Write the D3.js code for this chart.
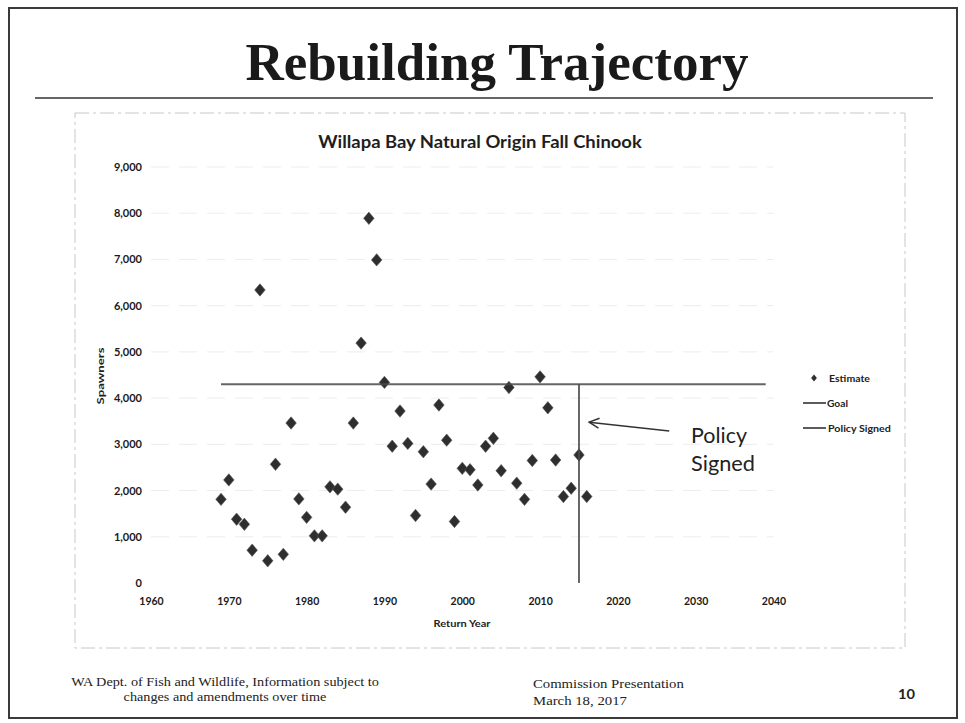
<!DOCTYPE html>
<html>
<head>
<meta charset="utf-8">
<script src="https://cdn.jsdelivr.net/npm/d3@7"></script>
<style>
  html, body { margin: 0; padding: 0; background: #fff; }
  svg { display: block; }
</style>
</head>
<body>
<svg id="chart" width="965" height="723"></svg>
<script>
// ---------------- DATA ----------------
const years = [1969,1970,1971,1972,1973,1974,1975,1976,1977,1978,1979,1980,1981,1982,1983,1984,1985,1986,1987,1988,1989,1990,1991,1992,1993,1994,1995,1996,1997,1998,1999,2000,2001,2002,2003,2004,2005,2006,2007,2008,2009,2010,2011,2012,2013,2014,2015,2016];
const spawners = [1810,2230,1380,1270,710,6340,480,2570,620,3460,1820,1420,1020,1020,2080,2030,1640,3460,5190,7890,6990,4340,2960,3720,3020,1460,2840,2140,3850,3090,1330,2480,2450,2120,2960,3130,2430,4230,2160,1810,2650,4460,3790,2660,1870,2050,2770,1870];
const goalYears = [1969, 2039];
const goalValues = [4300, 4300];
const policyYears = [2015, 2015];
const policyValues = [0, 4300];
const xTicks = [1960,1970,1980,1990,2000,2010,2020,2030,2040];
const yTicks = [0,1000,2000,3000,4000,5000,6000,7000,8000,9000];
const legendLabels = ["Estimate", "Goal", "Policy Signed"];
const annotationLines = ["Policy", "Signed"];
const arrowFrom = [2026.6, 3290];
const arrowTo = [2016.3, 3480];
const slideTitle = "Rebuilding Trajectory";
const chartTitle = "Willapa Bay Natural Origin Fall Chinook";
const xTitle = "Return Year";
const yTitle = "Spawners";
const footerLeft = ["WA Dept. of Fish and Wildlife, Information subject to", "changes and amendments over time"];
const footerMid = ["Commission Presentation", "March 18, 2017"];
const pageNumber = "10";

// ---------------- SETUP ----------------
const svg = d3.select("#chart");
const SANS = "Lato, 'Open Sans', sans-serif";
const SERIF = "'Liberation Serif', 'DejaVu Serif', serif";

function addText(parent, x, y, str, o) {
  const g = parent.append("g").attr("transform", `translate(${x},${y})`);
  const t = g.append("text")
    .attr("x", 0).attr("y", 0)
    .attr("text-anchor", o.anchor || "start")
    .attr("font-family", o.family || SANS)
    .attr("font-size", o.size || 12)
    .attr("font-weight", o.weight || "normal")
    .attr("fill", o.fill || "#222")
    .text(str);
  if (o.width) {
    const w = t.node().getComputedTextLength();
    if (w > 0) t.attr("transform", `scale(${o.width / w},${o.sy || 1})`);
  }
  if (o.rotate) g.attr("transform", `translate(${x},${y}) rotate(${o.rotate})`);
  return t;
}

// slide border
svg.append("rect").attr("x", 9).attr("y", 8).attr("width", 948).attr("height", 710)
  .attr("fill", "none").attr("stroke", "#3a3a3a").attr("stroke-width", 2);

// slide title + rule
addText(svg, 497, 80, slideTitle, {anchor: "middle", family: SERIF, size: 50, weight: "bold", fill: "#1a1a1a", width: 503, sy: 1.05});
svg.append("line").attr("x1", 35).attr("x2", 933).attr("y1", 98).attr("y2", 98)
  .attr("stroke", "#333").attr("stroke-width", 1.6);

// chart area outline (faint)
svg.append("rect").attr("x", 75).attr("y", 113).attr("width", 830).attr("height", 535)
  .attr("fill", "none").attr("stroke", "#c8c8c8").attr("stroke-width", 1)
  .attr("stroke-dasharray", "14,4,3,4");

// chart title
addText(svg, 480, 148, chartTitle, {anchor: "middle", size: 17, weight: "bold", fill: "#1e1e1e", width: 324});

// ---------------- SCALES ----------------
const x = d3.scaleLinear().domain([1960, 2040]).range([151, 773.5]);
const y = d3.scaleLinear().domain([0, 9000]).range([583, 167]);

// faint gridlines
svg.append("g").selectAll("line").data(yTicks.filter(d => d > 0)).join("line")
  .attr("x1", x(1960)).attr("x2", x(2040))
  .attr("y1", d => y(d)).attr("y2", d => y(d))
  .attr("stroke", "#ededed").attr("stroke-width", 1).attr("stroke-dasharray", "18,10");

// axes (labels only)
const yAxis = svg.append("g").attr("transform", `translate(${x(1960)},0)`)
  .call(d3.axisLeft(y).tickValues(yTicks).tickFormat(d3.format(",")).tickSize(0).tickPadding(9));
yAxis.select(".domain").remove();
yAxis.selectAll("text").attr("font-family", SANS).attr("font-size", 11).attr("font-weight", "bold").attr("fill", "#1a1a1a");

const xAxis = svg.append("g").attr("transform", `translate(0,${y(0) + 12})`)
  .call(d3.axisBottom(x).tickValues(xTicks).tickFormat(d3.format("d")).tickSize(0).tickPadding(3));
xAxis.select(".domain").remove();
xAxis.selectAll("text").attr("font-family", SANS).attr("font-size", 10.5).attr("font-weight", "bold").attr("fill", "#1a1a1a");

// axis titles
addText(svg, 462, 627, xTitle, {anchor: "middle", size: 10, weight: "bold", width: 57});
addText(svg, 104, 376, yTitle, {anchor: "middle", size: 10, weight: "bold", width: 57, rotate: -90});

// ---------------- MARKS ----------------
// diamond slightly taller than wide, as in the source chart
const diamondType = { draw(ctx, size) {
  const h = Math.sqrt(size) * 0.62, w = h * 0.85;
  ctx.moveTo(0, -h); ctx.lineTo(w, 0); ctx.lineTo(0, h); ctx.lineTo(-w, 0); ctx.closePath();
}};
const diamond = d3.symbol().type(diamondType).size(100);
svg.append("g").selectAll("path").data(years.map((yr, i) => ({yr, v: spawners[i]}))).join("path")
  .attr("d", diamond)
  .attr("transform", d => `translate(${x(d.yr)},${y(d.v)})`)
  .attr("fill", "#2e2e2e").attr("stroke", "#555").attr("stroke-width", 0.6);

const line = d3.line().x(d => x(d[0])).y(d => y(d[1]));
svg.append("path").datum(goalYears.map((yr, i) => [yr, goalValues[i]]))
  .attr("d", line).attr("fill", "none").attr("stroke", "#4a4a4a").attr("stroke-width", 2).attr("opacity", 0.85);
svg.append("path").datum(policyYears.map((yr, i) => [yr, policyValues[i]]))
  .attr("d", line).attr("fill", "none").attr("stroke", "#4a4a4a").attr("stroke-width", 2).attr("opacity", 0.85);

// ---------------- LEGEND ----------------
const lg = svg.append("g");
lg.append("path").attr("d", d3.symbol().type(diamondType).size(30))
  .attr("transform", "translate(814,378)").attr("fill", "#303030");
addText(lg, 829, 382, legendLabels[0], {size: 10, weight: "bold", width: 41});
lg.append("line").attr("x1", 803).attr("x2", 826).attr("y1", 403).attr("y2", 403).attr("stroke", "#333").attr("stroke-width", 1.6);
addText(lg, 827, 407, legendLabels[1], {size: 10, weight: "bold", width: 21});
lg.append("line").attr("x1", 803).attr("x2", 826).attr("y1", 428).attr("y2", 428).attr("stroke", "#333").attr("stroke-width", 1.6);
addText(lg, 828, 432, legendLabels[2], {size: 10, weight: "bold", width: 63});

// ---------------- ANNOTATION ----------------
const defs = svg.append("defs");
defs.append("marker").attr("id", "arrowhead").attr("viewBox", "0 0 12 12")
  .attr("refX", 11).attr("refY", 6).attr("markerWidth", 12).attr("markerHeight", 12)
  .attr("markerUnits", "userSpaceOnUse").attr("orient", "auto")
  .append("path").attr("d", "M1,1 L11,6 L1,11").attr("fill", "none").attr("stroke", "#333").attr("stroke-width", 1.5);
svg.append("line")
  .attr("x1", x(arrowFrom[0])).attr("y1", y(arrowFrom[1]))
  .attr("x2", x(arrowTo[0])).attr("y2", y(arrowTo[1]))
  .attr("stroke", "#333").attr("stroke-width", 1.5).attr("marker-end", "url(#arrowhead)");
addText(svg, 691, 443, annotationLines[0], {size: 22, width: 56, fill: "#222"});
addText(svg, 691, 471, annotationLines[1], {size: 22, width: 64, fill: "#222"});

// ---------------- FOOTER ----------------
addText(svg, 225, 686, footerLeft[0], {anchor: "middle", family: SERIF, size: 13, width: 308});
addText(svg, 225, 701, footerLeft[1], {anchor: "middle", family: SERIF, size: 13, width: 203});
addText(svg, 533, 688, footerMid[0], {family: SERIF, size: 13, width: 151});
addText(svg, 533, 705, footerMid[1], {family: SERIF, size: 13, width: 94});
addText(svg, 915, 699, pageNumber, {anchor: "end", size: 14, weight: "bold", width: 17});
</script>
</body>
</html>
